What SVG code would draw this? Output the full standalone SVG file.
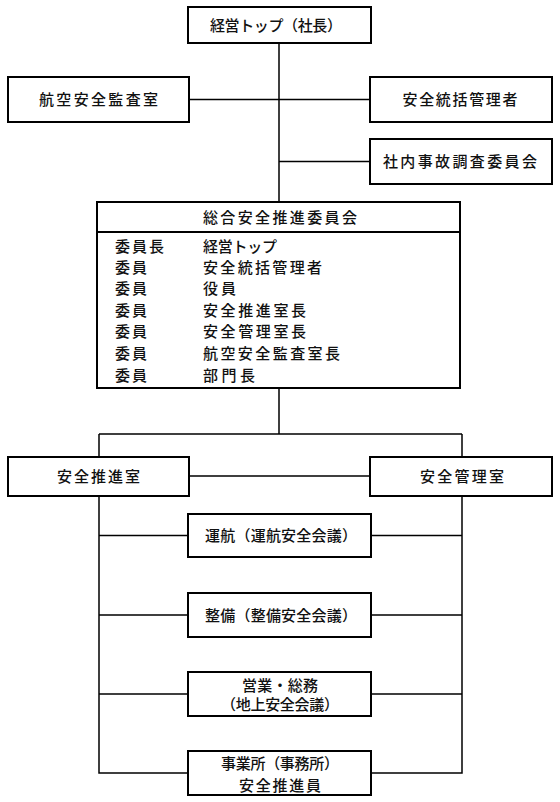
<svg xmlns="http://www.w3.org/2000/svg" width="560" height="802" viewBox="0 0 560 802">
<style>
.box{fill:#fff;stroke:#000;stroke-width:2}
.ln{fill:none;stroke:#000;stroke-width:1.5}
text{font-family:"Noto Sans CJK JP","Noto Sans CJK SC",sans-serif;font-size:15px;font-weight:500;fill:#111}
.c{text-anchor:middle}
</style>
<rect width="560" height="802" fill="#fff"/>
<g id="connectors">
<path class="ln" d="M279 43V202M189 99.5H370M279 161.5H370M279 388V434M99 434H462M99 434V457M462 434V457M189 476H370M99 496V773H188M462 496V773H371M99 535.5H188M371 535.5H462M99 615H188M371 615H462M99 694H188M371 694H462"/>
</g>
<g id="top">
<rect class="box" x="188" y="7" width="183" height="36"/>
<text class="c" x="276" y="30.5" textLength="132" lengthAdjust="spacing">経営トップ（社長）</text>
</g>
<g id="audit">
<rect class="box" x="8" y="77" width="181" height="45"/>
<text class="c" x="98.5" y="105" textLength="119" lengthAdjust="spacing">航空安全監査室</text>
</g>
<g id="manager">
<rect class="box" x="370" y="77" width="182" height="45"/>
<text class="c" x="460" y="105" textLength="115" lengthAdjust="spacing">安全統括管理者</text>
</g>
<g id="investigation">
<rect class="box" x="370" y="139" width="182" height="45"/>
<text class="c" x="460" y="167" textLength="154" lengthAdjust="spacing">社内事故調査委員会</text>
</g>
<g id="committee">
<rect class="box" x="97" y="202" width="363" height="186"/>
<line x1="97" y1="232" x2="460" y2="232" stroke="#000" stroke-width="2"/>
<text class="c" x="280" y="222.5" textLength="154" lengthAdjust="spacing">総合安全推進委員会</text>
<text x="115" y="251.5" textLength="49" lengthAdjust="spacing">委員長</text>
<text x="203" y="251.5" textLength="74" lengthAdjust="spacing">経営トップ</text>
<text x="115" y="272.5" textLength="32" lengthAdjust="spacing">委員</text>
<text x="203" y="272.5" textLength="119" lengthAdjust="spacing">安全統括管理者</text>
<text x="115" y="294" textLength="32" lengthAdjust="spacing">委員</text>
<text x="203" y="294" textLength="33" lengthAdjust="spacing">役員</text>
<text x="115" y="315.5" textLength="32" lengthAdjust="spacing">委員</text>
<text x="203" y="315.5" textLength="103" lengthAdjust="spacing">安全推進室長</text>
<text x="115" y="337" textLength="32" lengthAdjust="spacing">委員</text>
<text x="203" y="337" textLength="103" lengthAdjust="spacing">安全管理室長</text>
<text x="115" y="359" textLength="32" lengthAdjust="spacing">委員</text>
<text x="203" y="359" textLength="137" lengthAdjust="spacing">航空安全監査室長</text>
<text x="115" y="381" textLength="32" lengthAdjust="spacing">委員</text>
<text x="203" y="381" textLength="52" lengthAdjust="spacing">部門長</text>
</g>
<g id="promotion">
<rect class="box" x="8" y="457" width="181" height="39"/>
<text class="c" x="98.5" y="482" textLength="83" lengthAdjust="spacing">安全推進室</text>
</g>
<g id="management">
<rect class="box" x="370" y="457" width="182" height="39"/>
<text class="c" x="462" y="482" textLength="84" lengthAdjust="spacing">安全管理室</text>
</g>
<g id="flight">
<rect class="box" x="188" y="514" width="183" height="43"/>
<text class="c" x="281" y="541" textLength="152" lengthAdjust="spacing">運航（運航安全会議）</text>
</g>
<g id="maintenance">
<rect class="box" x="188" y="593" width="183" height="44"/>
<text class="c" x="281" y="620.5" textLength="152" lengthAdjust="spacing">整備（整備安全会議）</text>
</g>
<g id="sales">
<rect class="box" x="188" y="672" width="183" height="44"/>
<text class="c" x="280" y="690.5" textLength="76" lengthAdjust="spacing">営業・総務</text>
<text class="c" x="280" y="709.5" textLength="118" lengthAdjust="spacing">（地上安全会議）</text>
</g>
<g id="office">
<rect class="box" x="188" y="751" width="183" height="44"/>
<text class="c" x="280" y="768.5" textLength="118" lengthAdjust="spacing">事業所（事務所）</text>
<text class="c" x="280" y="790.5" textLength="82" lengthAdjust="spacing">安全推進員</text>
</g>
</svg>
